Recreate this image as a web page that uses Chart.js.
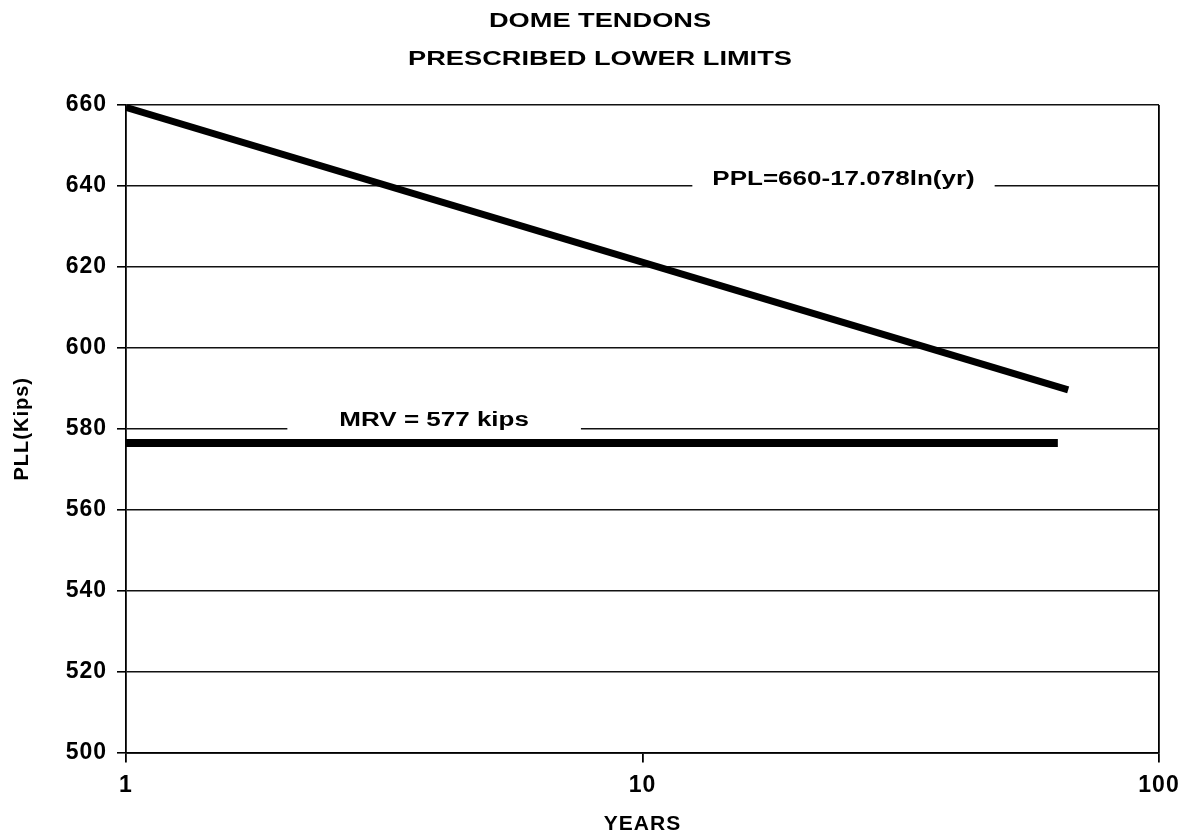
<!DOCTYPE html>
<html>
<head>
<meta charset="utf-8">
<script src="https://cdn.jsdelivr.net/npm/chart.js@4/dist/chart.umd.min.js"></script>
<style>
  html, body { margin: 0; padding: 0; background: #fff; }
  #wrap { width: 1189px; height: 839px; }
</style>
</head>
<body>
<div id="wrap"><canvas id="chart"></canvas></div>
<script>
const pplYears = [1, 66.7];
const pplValues = [659.4, 589.6];
const mrvYears = [1, 63.7];
const mrvValues = [576.5, 576.5];
const xTicks = [1, 10, 100];
const yTicks = [500, 520, 540, 560, 580, 600, 620, 640, 660];
const titleLines = ['DOME TENDONS', 'PRESCRIBED LOWER LIMITS'];

const toPoints = (xs, ys) => xs.map((x, i) => ({ x: x, y: ys[i] }));

const FONT = '"Liberation Sans", Arial, sans-serif';

// the scanned original has horizontally wide lettering
const drawWide = (ctx, text, x, y, size, stretch) => {
  ctx.save();
  ctx.letterSpacing = '0px';
  ctx.font = 'bold ' + size + 'px ' + FONT;
  ctx.textAlign = 'center';
  ctx.textBaseline = 'middle';
  ctx.translate(x, y);
  ctx.scale(stretch, 1);
  ctx.fillStyle = '#000';
  ctx.fillText(text, 0, 0);
  ctx.restore();
};

const wideText = {
  id: 'wideText',
  beforeDraw(chart) {
    chart.ctx.letterSpacing = '1px';
  },
  afterDatasetsDraw(chart, args, opts) {
    const { ctx, scales } = chart;
    // title
    opts.title.forEach((t, i) => {
      drawWide(ctx, t, opts.titleX, opts.titleY[i], 20, 1.36);
    });
    // labels set into gridlines with a white gap
    opts.items.forEach((item) => {
      const px = scales.x.getPixelForValue(item.x);
      const ly = scales.y.getPixelForValue(item.lineY);
      ctx.save();
      ctx.letterSpacing = '0px';
      ctx.font = 'bold 20px ' + FONT;
      const w = ctx.measureText(item.text).width * 1.3 + item.gap * 2;
      ctx.fillStyle = '#fff';
      ctx.fillRect(px - w / 2, ly - 2, w, 4);
      ctx.restore();
      drawWide(ctx, item.text, px, ly - item.rise, 20, 1.3);
    });
  },
};

new Chart(document.getElementById('chart'), {
  type: 'line',
  data: {
    datasets: [
      {
        label: 'PPL',
        data: toPoints(pplYears, pplValues),
        borderColor: '#000',
        borderWidth: 7,
        pointRadius: 0,
        borderCapStyle: 'butt',
      },
      {
        label: 'MRV',
        data: toPoints(mrvYears, mrvValues),
        borderColor: '#000',
        borderWidth: 8,
        pointRadius: 0,
        borderCapStyle: 'butt',
      },
    ],
  },
  options: {
    responsive: true,
    maintainAspectRatio: false,
    animation: false,
    layout: {
      padding: { left: 0, right: 30, top: 105, bottom: 0 },
    },
    scales: {
      x: {
        type: 'logarithmic',
        min: 1,
        max: 100,
        afterBuildTicks: (axis) => {
          axis.ticks = xTicks.map((v) => ({ value: v }));
        },
        afterFit: (axis) => {
          axis.height = 86.5;
        },
        ticks: {
          color: '#000',
          font: { family: FONT, size: 23, weight: 'bold' },
          padding: 9,
          maxRotation: 0,
          autoSkip: false,
          callback: (v) => String(v),
        },
        grid: {
          color: (c) => (c.tick && c.tick.value === 100 ? '#000' : 'rgba(0,0,0,0)'),
          tickColor: '#000',
          tickLength: 10,
          lineWidth: 1.8,
        },
        border: { color: '#000', width: 1.8 },
        title: {
          display: true,
          text: 'YEARS',
          color: '#000',
          font: { family: FONT, size: 21, weight: 'bold' },
          padding: { top: 0, bottom: 2 },
        },
      },
      y: {
        min: 500,
        max: 660,
        afterBuildTicks: (axis) => {
          axis.ticks = yTicks.map((v) => ({ value: v }));
        },
        afterFit: (axis) => {
          axis.width = 126;
        },
        ticks: {
          color: '#000',
          font: { family: FONT, size: 23, weight: 'bold' },
          padding: 10,
        },
        grid: {
          color: '#111',
          tickColor: '#000',
          tickLength: 9,
          lineWidth: 1.6,
        },
        border: { color: '#000', width: 1.8 },
        title: {
          display: true,
          text: 'PLL(Kips)',
          color: '#000',
          font: { family: FONT, size: 20, weight: 'bold' },
          padding: { top: 10, bottom: 0 },
        },
      },
    },
    plugins: {
      legend: { display: false },
      tooltip: { enabled: false },
      title: { display: false },
      wideText: {
        title: titleLines,
        titleX: 600,
        titleY: [21, 59],
        items: [
          { text: 'PPL=660-17.078ln(yr)', x: 24.5, lineY: 640, rise: 6, gap: 20 },
          { text: 'MRV = 577 kips', x: 3.95, lineY: 580, rise: 8, gap: 52 },
        ],
      },
    },
  },
  plugins: [wideText],
});
</script>
</body>
</html>
